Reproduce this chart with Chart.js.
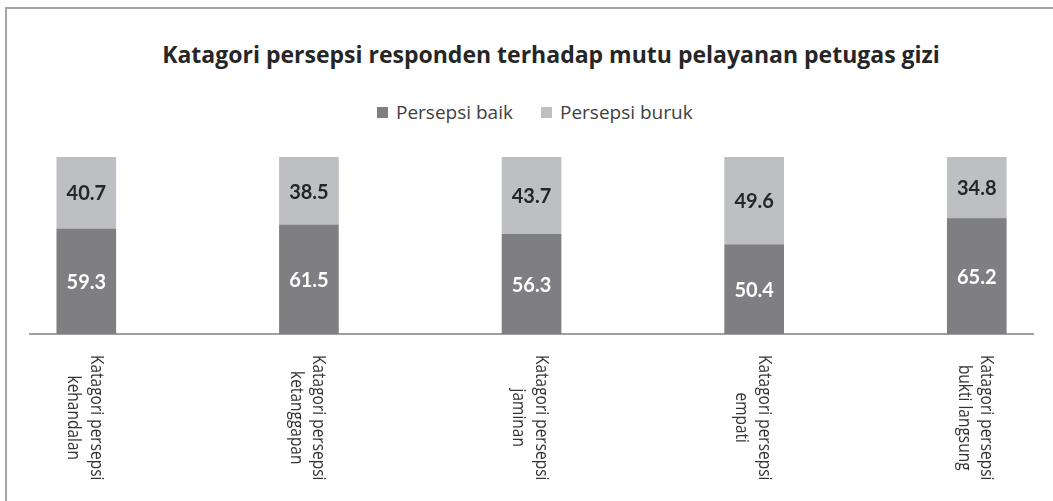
<!DOCTYPE html>
<html>
<head>
<meta charset="utf-8">
<script src="https://cdn.jsdelivr.net/npm/chart.js@4.4.1/dist/chart.umd.min.js"></script>
<style>
    html, body { margin: 0; padding: 0; background: #fff; }
    body { width: 1053px; height: 501px; overflow: hidden; position: relative; }
    #frame {
        position: absolute; left: 5px; top: 7px; width: 1200px; height: 600px;
        border-left: 2px solid #a6a6a6; border-top: 2px solid #a6a6a6;
    }
    #title {
        position: absolute; left: 0; top: 38px; width: 1102px; text-align: center;
        font: bold 23px "Open Sans", sans-serif; color: #262626; white-space: nowrap;
    }
    #legend {
        position: absolute; left: 377px; top: 99px; display: flex; align-items: center;
        font: 19px "Open Sans", sans-serif; color: #404040; white-space: nowrap;
    }
    #legend .item { display: flex; align-items: center; margin-right: 28px; }
    #legend .box { width: 11px; height: 11px; margin-right: 8px; }
    #wrap { position: absolute; left: 0; top: 0; width: 1053px; height: 501px; }
</style>
</head>
<body>
<div id="frame"></div>
<div id="title">Katagori persepsi responden terhadap mutu pelayanan petugas gizi</div>
<div id="legend"></div>
<div id="wrap"><canvas id="chart"></canvas></div>

<script>
// --- data ---
const categories = [
    ['Katagori persepsi', 'kehandalan'],
    ['Katagori persepsi', 'ketanggapan'],
    ['Katagori persepsi', 'jaminan'],
    ['Katagori persepsi', 'empati'],
    ['Katagori persepsi', 'bukti langsung']
];
const seriesNames = ['Persepsi baik', 'Persepsi buruk'];
const persepsiBaik = [59.3, 61.5, 56.3, 50.4, 65.2];
const persepsiBuruk = [40.7, 38.5, 43.7, 49.6, 34.8];

const COLORS = ['#7f7f81', '#bebfc3'];
const LABEL_COLORS = ['#ffffff', '#262626'];

// legend (html)
const legendEl = document.getElementById('legend');
seriesNames.forEach((name, i) => {
    const item = document.createElement('div');
    item.className = 'item';
    item.innerHTML = `<span class="box" style="background:${COLORS[i]}"></span>${name}`;
    legendEl.appendChild(item);
});

// angka di tengah setiap segmen
const valueLabels = {
    id: 'valueLabels',
    afterDatasetsDraw(chart) {
        const ctx = chart.ctx;
        ctx.save();
        ctx.font = 'bold 20px Lato, sans-serif';
        ctx.textAlign = 'center';
        ctx.textBaseline = 'middle';
        chart.data.datasets.forEach((ds, di) => {
            const meta = chart.getDatasetMeta(di);
            ctx.fillStyle = LABEL_COLORS[di];
            meta.data.forEach((bar, i) => {
                const mid = (bar.y + bar.base) / 2;
                ctx.fillText(ds.data[i].y.toFixed(1), bar.x, mid + 1);
            });
        });
        ctx.restore();
    }
};

// label kategori diputar 90 derajat (dibaca dari atas ke bawah)
const rotatedTicks = {
    id: 'rotatedTicks',
    afterDraw(chart) {
        const ctx = chart.ctx;
        const xs = chart.scales.x;
        const squeeze = 0.86;
        ctx.save();
        ctx.font = '18px "Open Sans", sans-serif';
        ctx.fillStyle = '#333333';
        ctx.textAlign = 'center';
        ctx.textBaseline = 'alphabetic';
        categories.forEach((lines, i) => {
            const cx = xs.getPixelForValue(i);
            const maxW = Math.max(...lines.map(l => ctx.measureText(l).width));
            ctx.save();
            ctx.translate(cx, chart.chartArea.bottom + 21);
            ctx.rotate(Math.PI / 2);
            ctx.scale(squeeze, 1);
            lines.forEach((line, j) => {
                ctx.fillText(line, maxW / 2, -4.5 + j * 22.7);
            });
            ctx.restore();
        });
        ctx.restore();
    }
};

new Chart(document.getElementById('chart'), {
    type: 'bar',
    data: {
        datasets: [
            {
                label: seriesNames[0],
                data: persepsiBaik.map((v, i) => ({ x: i, y: v })),
                backgroundColor: COLORS[0],
                barThickness: 59
            },
            {
                label: seriesNames[1],
                data: persepsiBuruk.map((v, i) => ({ x: i, y: v })),
                backgroundColor: COLORS[1],
                barThickness: 59
            }
        ]
    },
    options: {
        responsive: true,
        maintainAspectRatio: false,
        animation: false,
        layout: { padding: { left: 30, right: 20, top: 157, bottom: 167 } },
        scales: {
            x: {
                type: 'linear',
                stacked: true,
                offset: false,
                min: -0.2529,
                max: 4.2525,
                grid: { display: false, drawTicks: false },
                border: { display: true, color: '#a0a0a2', width: 2 },
                ticks: { display: false },
                afterFit: s => { s.height = 0; }
            },
            y: {
                stacked: true,
                display: false,
                min: 0,
                max: 100
            }
        },
        plugins: {
            legend: { display: false },
            tooltip: { enabled: false }
        }
    },
    plugins: [valueLabels, rotatedTicks]
});
</script>
</body>
</html>
